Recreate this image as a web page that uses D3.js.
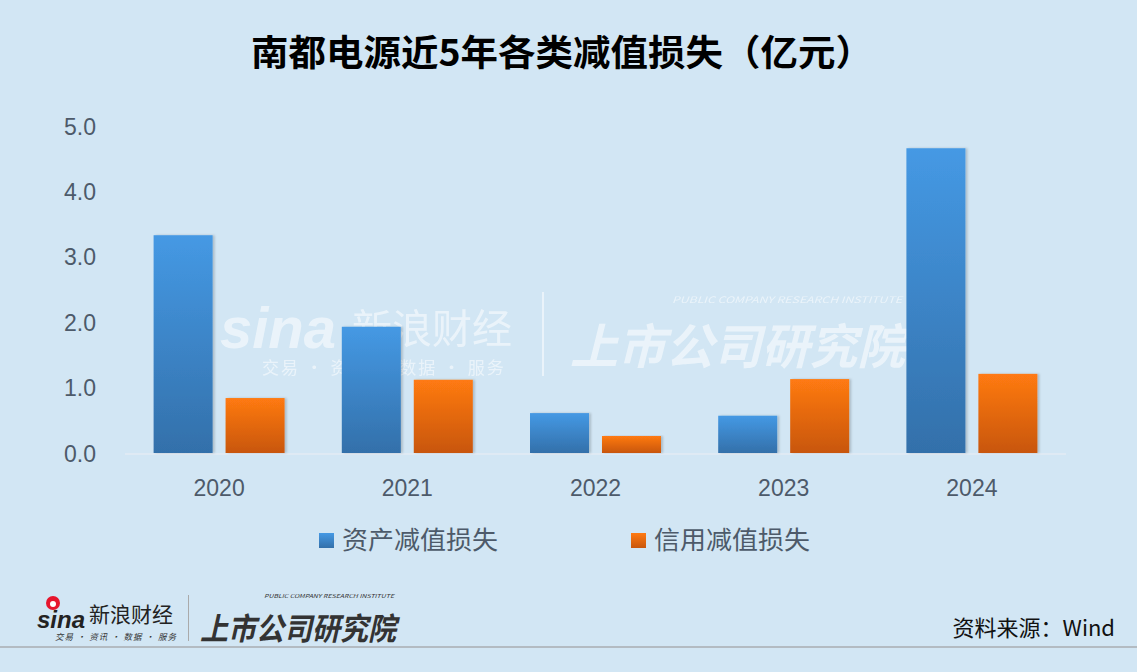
<!DOCTYPE html>
<html><head><meta charset="utf-8">
<script src="https://cdn.jsdelivr.net/npm/d3@7"></script>
<style>
html,body{margin:0;padding:0;background:#d2e6f4;}
svg{display:block;font-family:"Noto Sans CJK SC","Noto Sans",sans-serif;}
</style></head>
<body>
<svg id="c" width="1137" height="672"></svg>
<script>
const categories = ["2020","2021","2022","2023","2024"];
const seriesNames = ["资产减值损失","信用减值损失"];
const assetLoss = [3.33,1.93,0.61,0.57,4.66];
const creditLoss = [0.84,1.12,0.26,1.13,1.21];
const yTicks = [0,1,2,3,4,5];
const title = "南都电源近5年各类减值损失（亿元）";
const source = "资料来源：Wind";

const svg = d3.select("#c");
const W=1137,H=672;
svg.append("rect").attr("width",W).attr("height",H).attr("fill","#d2e6f4");

const defs = svg.append("defs");
const gB = defs.append("linearGradient").attr("id","gb").attr("x1",0).attr("y1",0).attr("x2",0).attr("y2",1);
gB.append("stop").attr("offset","0%").attr("stop-color","#4599e4");
gB.append("stop").attr("offset","100%").attr("stop-color","#3370aa");
const gO = defs.append("linearGradient").attr("id","go").attr("x1",0).attr("y1",0).attr("x2",0).attr("y2",1);
gO.append("stop").attr("offset","0%").attr("stop-color","#ff7a12");
gO.append("stop").attr("offset","100%").attr("stop-color","#c8560c");
const flt = defs.append("filter").attr("id","sh").attr("x","-20%").attr("y","-5%").attr("width","140%").attr("height","110%");
flt.append("feDropShadow").attr("dx",2).attr("dy",0).attr("stdDeviation",1.2).attr("flood-color","#000").attr("flood-opacity",0.18);

// Title
svg.append("text").attr("x",562).attr("y",66).attr("text-anchor","middle")
  .attr("font-size",36).attr("font-weight",700).attr("fill","#000")
  .attr("textLength",622).attr("lengthAdjust","spacingAndGlyphs")
  .text(title);

// watermark
const wm = svg.append("g").attr("fill","#fff").attr("opacity",0.55);
wm.append("text").attr("x",220).attr("y",348).attr("font-size",58).attr("font-weight",700).attr("font-style","italic").attr("font-family","Arial, Liberation Sans, sans-serif").text("sina");
wm.append("text").attr("x",352).attr("y",343).attr("font-size",40).text("新浪财经");
wm.append("text").attr("x",262).attr("y",374).attr("font-size",17).attr("letter-spacing",2).text("交易 · 资讯 · 数据 · 服务");
wm.append("rect").attr("x",542).attr("y",292).attr("width",2).attr("height",84);
wm.append("text").attr("x",570).attr("y",364).attr("font-size",48).attr("font-weight",700).attr("font-style","italic").attr("textLength",335).attr("lengthAdjust","spacingAndGlyphs").text("上市公司研究院");
wm.append("text").attr("x",672).attr("y",303).attr("font-size",9).attr("font-style","italic").attr("textLength",230).attr("lengthAdjust","spacingAndGlyphs").text("PUBLIC COMPANY RESEARCH INSTITUTE");

// scales
const x0 = d3.scaleBand().domain(categories).range([125,1066]).paddingInner(0).paddingOuter(0);
const x1 = d3.scaleBand().domain(seriesNames).range([0,131]).paddingInner(0.18);
const y = d3.scaleLinear().domain([0,5]).range([453,126]);
const grpOff = (x0.bandwidth()-131)/2;

// baseline
svg.append("line").attr("x1",125).attr("x2",1066).attr("y1",y(0)+1).attr("y2",y(0)+1)
  .attr("stroke","#dfeaf4").attr("stroke-width",2);

const data = categories.map((c,i)=>({c, vals:[{s:seriesNames[0],v:assetLoss[i]},{s:seriesNames[1],v:creditLoss[i]}]}));
const g = svg.append("g").selectAll("g").data(data).join("g")
  .attr("transform",d=>`translate(${x0(d.c)+grpOff},0)`);
g.selectAll("rect").data(d=>d.vals).join("rect")
  .attr("x",d=>x1(d.s)).attr("width",x1.bandwidth())
  .attr("y",d=>y(d.v)).attr("height",d=>y(0)-y(d.v))
  .attr("fill",(d,i)=>i===0?"url(#gb)":"url(#go)")
  .attr("filter","url(#sh)");

// y axis
const yAxis = d3.axisLeft(y).tickValues(yTicks).tickFormat(d3.format(".1f")).tickSize(0).tickPadding(0);
const ya = svg.append("g").attr("transform","translate(96,0)").call(yAxis);
ya.select(".domain").remove();
ya.selectAll("text").attr("font-size",23).attr("fill","#4d5a6a").attr("font-family","Liberation Sans, Arial, sans-serif").attr("dy","0.35em");

// x axis
const xAxis = d3.axisBottom(x0).tickSize(0).tickPadding(0);
const xa = svg.append("g").attr("transform",`translate(0,${y(0)})`).call(xAxis);
xa.select(".domain").remove();
xa.selectAll("text").attr("font-size",23).attr("fill","#4d5a6a").attr("font-family","Liberation Sans, Arial, sans-serif").attr("dy",0).attr("y",43);

// legend
const legX=[319,631];
const lg = svg.append("g");
seriesNames.forEach((s,i)=>{
  lg.append("rect").attr("x",legX[i]).attr("y",533).attr("width",15).attr("height",15)
    .attr("fill",i===0?"url(#gb)":"url(#go)");
  lg.append("text").attr("x",legX[i]+23).attr("y",549).attr("font-size",25).attr("fill","#4d5a6a")
    .attr("textLength",156).attr("lengthAdjust","spacingAndGlyphs").text(s);
});

// footer logos
const ft = svg.append("g");
ft.append("circle").attr("cx",53).attr("cy",603).attr("r",7).attr("fill","#e6162d");
ft.append("circle").attr("cx",53).attr("cy",604).attr("r",3).attr("fill","#fff");
ft.append("text").attr("x",37).attr("y",628).attr("font-size",24).attr("font-weight",700).attr("font-style","italic").attr("fill","#222").attr("font-family","Arial, Liberation Sans, sans-serif").text("sina");
ft.append("text").attr("x",89).attr("y",622).attr("font-size",21).attr("fill","#222").text("新浪财经");
ft.append("text").attr("x",55).attr("y",640).attr("font-size",8.5).attr("fill","#333").attr("font-style","italic").attr("letter-spacing",1).text("交易 · 资讯 · 数据 · 服务");
ft.append("rect").attr("x",188).attr("y",595).attr("width",1).attr("height",46).attr("fill","#aaa");
ft.append("text").attr("x",200).attr("y",640).attr("font-size",31).attr("font-weight",700).attr("font-style","italic").attr("fill","#333").attr("textLength",196).attr("lengthAdjust","spacingAndGlyphs").text("上市公司研究院");
ft.append("text").attr("x",264).attr("y",598).attr("font-size",5.5).attr("fill","#333").attr("font-style","italic").attr("textLength",130).attr("lengthAdjust","spacingAndGlyphs").text("PUBLIC COMPANY RESEARCH INSTITUTE");
ft.append("text").attr("x",1115).attr("y",636).attr("text-anchor","end").attr("font-size",22).attr("fill","#111").text(source);
ft.append("line").attr("x1",0).attr("x2",W).attr("y1",647).attr("y2",647).attr("stroke","#a8adb2").attr("stroke-width",1.5);
</script>
</body></html>
